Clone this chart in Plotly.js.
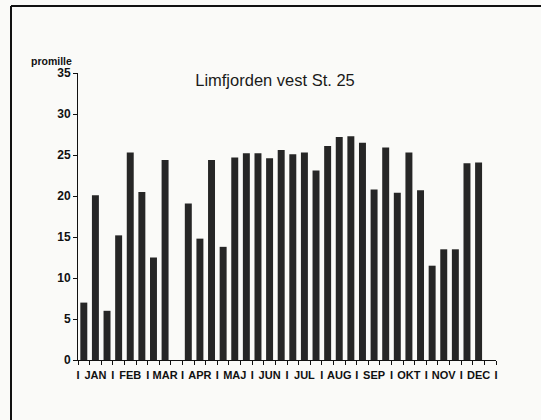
<!DOCTYPE html>
<html>
<head>
<meta charset="utf-8">
<script src="https://cdn.plot.ly/plotly-3.0.1.min.js"></script>
<style>html,body{margin:0;padding:0;background:#fafaf8;}#chart{width:541px;height:420px;}</style>
</head>
<body>
<div id="chart"></div>
<script>
// three measurement slots per month (36 slots), null = no measurement
const slots = [0,1,2,3,4,5,6,7,8,9,10,11,12,13,14,15,16,17,18,19,20,21,22,23,24,25,26,27,28,29,30,31,32,33,34,35];
const salinity = [7.0,20.1,6.0, 15.2,25.3,20.5, 12.5,24.4,null, 19.1,14.8,24.4,
                  13.8,24.7,25.2, 25.2,24.6,25.6, 25.1,25.3,23.1, 26.1,27.2,27.3,
                  26.5,20.8,25.9, 20.4,25.3,20.7, 11.5,13.5,13.5, 24.0,24.1,null];
const months = ['JAN','FEB','MAR','APR','MAJ','JUN','JUL','AUG','SEP','OKT','NOV','DEC'];
const yTicks = [0,5,10,15,20,25,30,35];

// month labels centred on the middle slot, "I" separators on month boundaries
const tickvals = [], ticktext = [];
months.forEach((m, i) => {
  tickvals.push(i * 3 - 0.5); ticktext.push('I');
  tickvals.push(i * 3 + 1); ticktext.push(m);
});
tickvals.push(months.length * 3 - 0.5); ticktext.push('I');

const font = 'Liberation Sans, Arial, Helvetica, sans-serif';

const trace = {
  type: 'bar', x: slots, y: salinity, width: 0.6,
  marker: {color: '#262626', line: {width: 0}},
  hoverinfo: 'skip'
};

const L = 78, R = 45, T = 73, B = 60;
const pw = 541 - L - R, ph = 420 - T - B;
const px = v => (v - L) / pw;
const py = v => (420 - B - v) / ph;

const layout = {
  width: 541, height: 420,
  margin: {l: L, r: R, t: T, b: B},
  paper_bgcolor: '#fafaf8', plot_bgcolor: 'rgba(0,0,0,0)',
  showlegend: false,
  title: {
    text: 'Limfjorden vest St. 25',
    font: {family: font, size: 16.5, color: '#1a1a1a'},
    xref: 'container', yref: 'container', x: 275 / 541, xanchor: 'center',
    y: 1 - 80 / 420, yanchor: 'middle'
  },
  xaxis: {
    range: [-0.5, 35.5], showgrid: false, zeroline: false,
    showline: true, linecolor: '#111', linewidth: 1,
    tickmode: 'array', tickvals: tickvals, ticktext: ticktext, tickangle: 0,
    ticks: '', ticklen: 0, ticklabelstandoff: 5,
    tickfont: {family: font, size: 11, color: '#111', weight: 'bold'},
    minor: {tick0: -0.5, dtick: 1, ticks: 'outside', ticklen: 4, tickcolor: '#111', tickwidth: 1},
    fixedrange: true
  },
  yaxis: {
    range: [0, 35], showgrid: false, zeroline: false,
    showline: true, linecolor: '#111', linewidth: 1,
    tickmode: 'array', tickvals: yTicks,
    ticks: 'outside', ticklen: 4, tickcolor: '#111',
    tickfont: {family: font, size: 12, color: '#111', weight: 'bold'},
    fixedrange: true
  },
  annotations: [{
    text: 'promille', xref: 'paper', yref: 'paper',
    x: px(29), y: py(61), xanchor: 'left', yanchor: 'middle', showarrow: false,
    font: {family: font, size: 10.5, color: '#111', weight: 'bold'}
  }],
  shapes: [
    {type: 'line', xref: 'paper', yref: 'paper', x0: px(11), x1: px(11), y0: py(6), y1: py(420), line: {color: '#111', width: 2}},
    {type: 'line', xref: 'paper', yref: 'paper', x0: px(11), x1: px(541), y0: py(6), y1: py(6), line: {color: '#111', width: 2}}
  ]
};

Plotly.newPlot('chart', [trace], layout, {displayModeBar: false, staticPlot: true});
</script>
</body>
</html>
